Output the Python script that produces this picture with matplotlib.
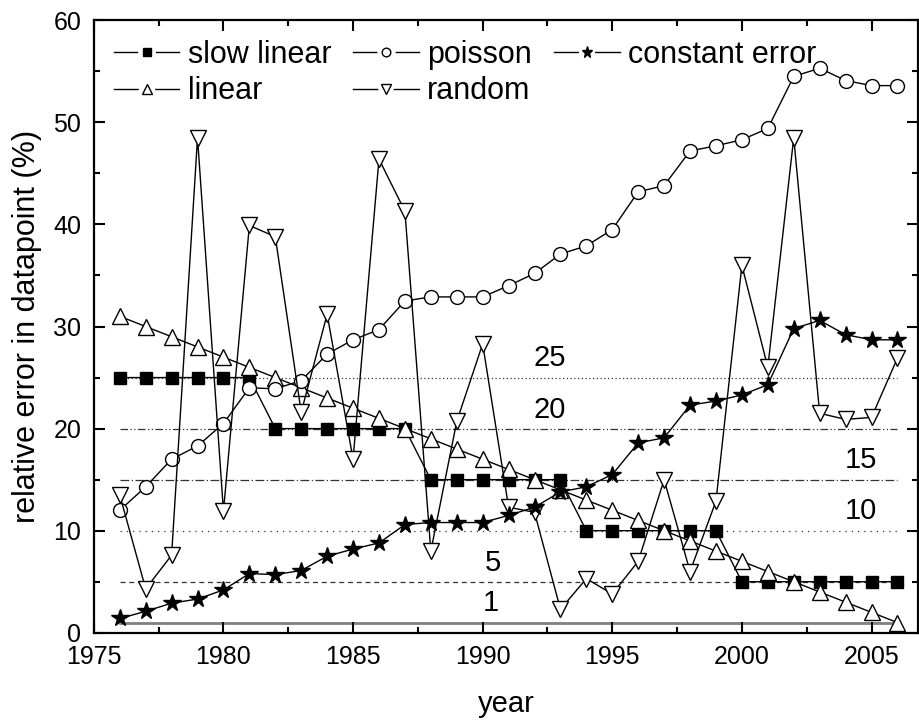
import matplotlib
matplotlib.use("Agg")
import matplotlib.pyplot as plt
from matplotlib.lines import Line2D
from matplotlib.legend_handler import HandlerTuple
from matplotlib.ticker import MultipleLocator

plt.rcParams['font.family'] = ['Liberation Sans', 'DejaVu Sans']

years = list(range(1976, 2007))

slow_linear = [25] * 6 + [20] * 6 + [15] * 6 + [10] * 6 + [5] * 7
linear = [31 - i for i in range(31)]
poisson = [12.0, 14.3, 17.0, 18.3, 20.5, 24.0, 23.9, 24.7, 27.3, 28.7,
           29.7, 32.5, 32.9, 32.9, 32.9, 34.0, 35.2, 37.1, 37.9, 39.5,
           43.2, 43.8, 47.2, 47.7, 48.3, 49.4, 54.5, 55.3, 54.1, 53.6, 53.6]
constant_error = [1.4, 2.1, 2.9, 3.3, 4.2, 5.8, 5.7, 6.1, 7.5, 8.2,
                  8.8, 10.6, 10.8, 10.8, 10.8, 11.5, 12.3, 13.8, 14.3, 15.5,
                  18.6, 19.1, 22.3, 22.7, 23.3, 24.3, 29.8, 30.6, 29.2, 28.7, 28.7]
random_err = [13.5, 4.3, 7.6, 48.5, 11.9, 39.9, 38.8, 21.6, 31.2, 17.0,
              46.4, 41.3, 8.0, 20.7, 28.3, 12.3, 11.8, 2.3, 5.3, 3.8,
              7.0, 15.0, 6.0, 12.9, 36.0, 26.0, 48.5, 21.5, 20.9, 21.1, 26.9]

# reference levels and where their numbers sit
levels = [25, 20, 15, 10, 5, 1]
level_styles = [(0, (1, 2)), (0, (6, 2, 1, 2, 1, 2)), (0, (7, 2, 1, 2)),
                (0, (1, 4)), (0, (4, 3)), '-']
level_label_x = [1992.6, 1992.6, 2004.6, 2004.6, 1990.4, 1990.3]
level_label_y = [26.9, 21.8, 16.9, 11.9, 6.8, 2.9]

fig = plt.figure(figsize=(9.2, 7.24), dpi=100)
ax = fig.add_axes([0.102, 0.126, 0.896, 0.846])

for lev, ls, lx, ly in zip(levels, level_styles, level_label_x, level_label_y):
    if lev == 1:
        ax.plot([years[0], years[-1]], [lev, lev], color='#808080', lw=2.0, zorder=1)
    else:
        ax.plot([years[0], years[-1]], [lev, lev], color='#333333', lw=0.9,
                linestyle=ls, zorder=1)
    ax.text(lx, ly, str(lev), ha='center', va='center', fontsize=21)

kw = dict(color='black', lw=1.0, zorder=3)
series = [
    ('slow linear', slow_linear, dict(marker='s', ms=9, mfc='black')),
    ('linear', linear, dict(marker='^', ms=11, mfc='white')),
    ('poisson', poisson, dict(marker='o', ms=10, mfc='white')),
    ('random', random_err, dict(marker='v', ms=11, mfc='white')),
    ('constant error', constant_error, dict(marker='*', ms=13, mfc='black')),
]

handles, labels = [], []
for name, vals, mk in series:
    ax.plot(years, vals, mec='black', mew=1.0, **mk, **kw)
    # legend: line, white halo to open a gap, then a small marker
    ln = Line2D([], [], color='black', lw=1.0)
    halo = Line2D([], [], ls='none', marker=mk['marker'], ms=mk['ms'] * 0.62,
                  mfc='white', mec='white', mew=7)
    pt = Line2D([], [], ls='none', marker=mk['marker'], ms=mk['ms'] * 0.62,
                mfc=mk['mfc'], mec='black', mew=1.0)
    handles.append((ln, halo, pt))
    labels.append(name)

ax.set_xlim(1975, 2006.8)
ax.set_ylim(0, 60)
ax.xaxis.set_major_locator(MultipleLocator(5))
ax.xaxis.set_minor_locator(MultipleLocator(2.5))
ax.yaxis.set_major_locator(MultipleLocator(10))
ax.yaxis.set_minor_locator(MultipleLocator(5))
ax.tick_params(which='both', direction='in', top=True, right=True, width=1.5,
               labelsize=18, pad=9)
ax.tick_params(which='major', length=8)
ax.tick_params(which='minor', length=4.5)
for sp in ax.spines.values():
    sp.set_linewidth(1.6)

ax.set_xlabel('year', fontsize=21, labelpad=15)
ax.set_ylabel('relative error in datapoint (%)', fontsize=22, labelpad=8)

ax.legend(handles, labels, ncol=3, frameon=False, loc='upper left',
          handler_map={tuple: HandlerTuple(ndivide=1)},
          fontsize=22, handlelength=2.15, handletextpad=0.27,
          columnspacing=0.72, labelspacing=0.2,
          borderaxespad=0.35, borderpad=0.3)

fig.savefig('out.png', dpi=100)
